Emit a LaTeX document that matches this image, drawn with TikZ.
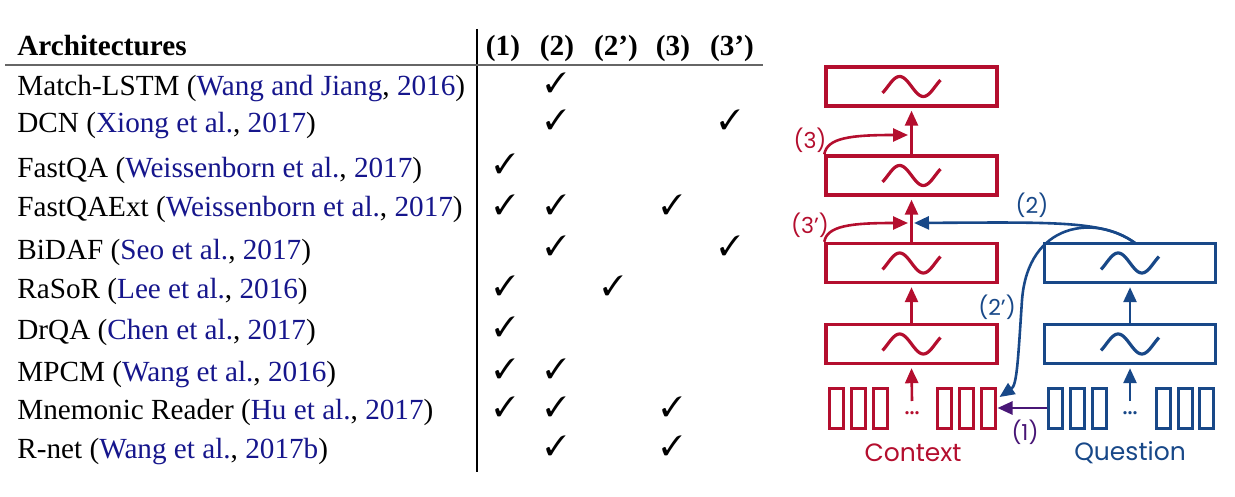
\documentclass[tikz,border=0pt]{standalone}
\usepackage{pifont}
\usepackage{fontspec}
\setmainfont{Liberation Serif}
\newfontfamily\comic{Poppins}
\usetikzlibrary{arrows.meta}
\definecolor{cRed}{RGB}{180,14,46}
\definecolor{cBlue}{RGB}{24,72,136}
\definecolor{cPurp}{RGB}{72,22,118}
\definecolor{citeB}{RGB}{22,22,140}
\newcommand{\cb}[1]{\textcolor{citeB}{#1}}
\newcommand{\ck}{\ding{51}}
\begin{document}
\begin{tikzpicture}[x=0.5pt,y=-0.5pt,
  tab/.style={anchor=base west,inner sep=0pt,font=\fontsize{14.6}{16}\selectfont},
  hd/.style={anchor=base,inner sep=0pt,font=\fontsize{14.6}{16}\selectfont\bfseries},
  chk/.style={anchor=base,inner sep=0pt,font=\fontsize{14}{16}\selectfont},
  lay/.style={draw,line width=1.7pt,minimum width=85.5pt,minimum height=19.5pt,inner sep=0pt},
  tok/.style={draw,line width=1.5pt,minimum width=7pt,minimum height=20pt,inner sep=0pt},
  arr/.style={line width=1.3pt,-{Triangle[length=7.5pt,width=6.5pt]}},
  lbl/.style={font=\comic\fontsize{11}{13}\selectfont,inner sep=0pt},
  big/.style={font=\comic\fontsize{12.5}{14}\selectfont,inner sep=0pt},
  sinewave/.pic={\draw[line width=1.6pt] plot[domain=-40:400,samples=60,smooth] ({-29+(\x+40)/7.5862},{-10*sin(\x)});}
]
\useasboundingbox (0,0) rectangle (1235,497);

% ---------- table ----------
\draw[line width=0.55pt] (477,29) -- (477,472);
\draw[black!60,line width=1pt] (5,65.5) -- (763,65.5);

\node[hd,anchor=base west] (hArch) at (17,56) {Architectures};
\node[hd] (h1) at (503,56) {(1)};
\node[hd] (h2) at (557,56) {(2)};
\node[hd] (h2p) at (616,56) {(2’)};
\node[hd] (h3) at (673,56) {(3)};
\node[hd] (h3p) at (732,56) {(3’)};

\node[tab] (r1) at (17,96) {Match-LSTM (\cb{Wang and Jiang}, \cb{2016})};
\node[tab] (r2) at (17,133) {DCN (\cb{Xiong et al.}, \cb{2017})};
\node[tab] (r3) at (17,177) {FastQA (\cb{Weissenborn et al.}, \cb{2017})};
\node[tab] (r4) at (17,217) {FastQAExt (\cb{Weissenborn et al.}, \cb{2017})};
\node[tab] (r5) at (17,259) {BiDAF (\cb{Seo et al.}, \cb{2017})};
\node[tab] (r6) at (17,298) {RaSoR (\cb{Lee et al.}, \cb{2016})};
\node[tab] (r7) at (17,339) {DrQA (\cb{Chen et al.}, \cb{2017})};
\node[tab] (r8) at (17,381) {MPCM (\cb{Wang et al.}, \cb{2016})};
\node[tab] (r9) at (17,419) {Mnemonic Reader (\cb{Hu et al.}, \cb{2017})};
\node[tab] (r10) at (17,458) {R-net (\cb{Wang et al.}, \cb{2017b})};

% checkmarks: columns x = 505, 556, 613, 672, 730
\foreach \nm/\cx/\by in {a1/556/96, a2/556/133, b2/730/133, a3/505/177,
  a4/505/217, b4/556/217, c4/672/217, a5/556/259, b5/730/259,
  a6/505/298, b6/613/298, a7/505/339, a8/505/381, b8/556/381,
  a9/505/419, b9/556/419, c9/672/419, a10/556/458, b10/672/458}
  \node[chk] (ck\nm) at (\cx,\by-3) {\ck};

% ---------- diagram ----------
\node[lay,cRed] (c1) at (911.5,86.5) {};
\node[lay,cRed] (c2) at (911.5,175.5) {};
\node[lay,cRed] (c3) at (911.5,263) {};
\node[lay,cRed] (c4) at (911.5,344) {};
\node[lay,cBlue] (q1) at (1130,263) {};
\node[lay,cBlue] (q2) at (1130,344) {};
\foreach \n in {c1,c2,c3,c4} \pic[cRed] at (\n) {sinewave};
\foreach \n in {q1,q2} \pic[cBlue] at (\n) {sinewave};

\foreach \n/\xx in {1/836,2/858,3/880,4/944,5/966,6/988}
  \node[tok,cRed] (ct\n) at (\xx,408) {};
\foreach \n/\xx in {1/1055,2/1077,3/1099,4/1163,5/1185,6/1206}
  \node[tok,cBlue] (qt\n) at (\xx,408) {};
\node[cRed,font=\bfseries\fontsize{10}{11}\selectfont,inner sep=0pt] (cdots) at (912,413) {...};
\node[cBlue,font=\bfseries\fontsize{10}{11}\selectfont,inner sep=0pt] (qdots) at (1130,413) {...};

\coordinate (cin) at (912,401);
\coordinate (qin) at (1130,401);
\coordinate (m3) at (912,135);
\coordinate (m3p) at (912,223);

\draw[arr,cRed] (cin) -- ([yshift=-1.5pt]c4.south);
\draw[arr,cRed] (c4.north) -- ([yshift=-1.5pt]c3.south);
\draw[arr,cRed] (c3.north) -- ([yshift=-1.5pt]c2.south);
\draw[arr,cRed] (c2.north) -- ([yshift=-1.5pt]c1.south);
\draw[arr,cBlue] (qin) -- ([yshift=-1.5pt]q2.south);
\draw[arr,cBlue] (q2.north) -- ([yshift=-1.5pt]q1.south);

% (3) and (3')
\draw[arr,cRed] (c2.north west) .. controls (827,138) and (850,135) .. ([xshift=-2pt]m3);
\draw[arr,cRed] (c3.north west) .. controls (827,226) and (850,223) .. ([xshift=-2pt]m3p);
\node[lbl,cRed] (l3) at (810,140) {(3)};
\node[lbl,cRed] (l3p) at (810,225) {(3’)};

% (2) and (2')
\coordinate (qtop) at (1135,243);
\draw[arr,cBlue] (qtop) .. controls (1105,221) and (1060,222) .. ([xshift=1pt]m3p);
\draw[arr,cBlue] (qtop) .. controls (1095,214) and (1028,222) .. (1022,300)
   .. controls (1018,360) and (1017,385) .. ([xshift=1.5pt,yshift=5.5pt]ct6.east);
\node[lbl,cBlue] (l2) at (1032,205) {(2)};
\node[lbl,cBlue] (l2p) at (997,307) {(2’)};

% (1)
\draw[arr,cPurp] (qt1.west) -- ([xshift=0.5pt]ct6.east);
\node[lbl,cPurp] (l1) at (1025,432) {(1)};

\node[big,cRed] (ctx) at (913,453) {Context};
\node[big,cBlue] (qst) at (1130,453) {Question};
\end{tikzpicture}
\end{document}
